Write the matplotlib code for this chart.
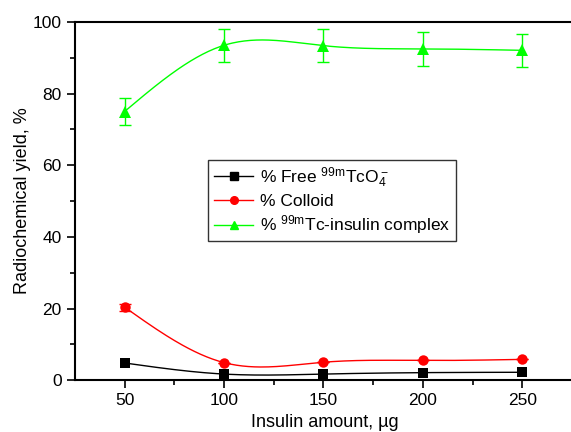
import numpy as np
import matplotlib
matplotlib.use("Agg")
import matplotlib.pyplot as plt

plt.rcParams['font.family'] = ['Liberation Sans', 'DejaVu Sans']
plt.rcParams['mathtext.fontset'] = 'custom'
plt.rcParams['mathtext.rm'] = 'Liberation Sans'
plt.rcParams['mathtext.it'] = 'Liberation Sans'

# data
insulin = [50, 100, 150, 200, 250]
free_tco4 = [4.8, 1.7, 1.7, 2.1, 2.2]
colloid = [20.4, 4.9, 5.0, 5.5, 5.8]
colloid_err = [1.0, 0, 0, 0, 0]
complex_ = [75.0, 93.5, 93.4, 92.5, 92.1]
complex_err = [3.7, 4.6, 4.6, 4.7, 4.6]


def spline(x, y, n=200):
    # natural cubic spline, only used to draw the connecting curve
    x = np.asarray(x, float)
    y = np.asarray(y, float)
    k = len(x)
    h = np.diff(x)
    A = np.zeros((k, k))
    b = np.zeros(k)
    A[0, 0] = A[-1, -1] = 1
    for i in range(1, k - 1):
        A[i, i - 1] = h[i - 1]
        A[i, i] = 2 * (h[i - 1] + h[i])
        A[i, i + 1] = h[i]
        b[i] = 6 * ((y[i + 1] - y[i]) / h[i] - (y[i] - y[i - 1]) / h[i - 1])
    M = np.linalg.solve(A, b)
    xs = np.linspace(x[0], x[-1], n)
    idx = np.clip(np.searchsorted(x, xs) - 1, 0, k - 2)
    x0, x1 = x[idx], x[idx + 1]
    hh = x1 - x0
    t0, t1 = x1 - xs, xs - x0
    ys = (M[idx] * t0 ** 3 + M[idx + 1] * t1 ** 3) / (6 * hh) \
        + (y[idx] / hh - M[idx] * hh / 6) * t0 \
        + (y[idx + 1] / hh - M[idx + 1] * hh / 6) * t1
    return xs, ys


fig = plt.figure(figsize=(5.71, 4.32), dpi=100)
ax = fig.add_axes([0.131, 0.12, 1.007 - 0.131, 0.829])

series = [
    (free_tco4, None, 'black', 's', 6.5, r'% Free $^{\mathrm{99m}}$TcO$_4^-$'),
    (colloid, colloid_err, 'red', 'o', 7.5, '% Colloid'),
    (complex_, complex_err, '#00ff00', '^', 8.0, r'% $^{\mathrm{99m}}$Tc-insulin complex'),
]

for vals, err, col, mk, ms, lab in series:
    xs, ys = spline(insulin, vals)
    ax.plot(xs, ys, color=col, lw=1, zorder=2)
    if err is not None:
        ax.errorbar(insulin, vals, yerr=err, fmt='none', ecolor=col,
                    elinewidth=1, capsize=4, capthick=1, zorder=3)
    ax.plot(insulin, vals, ls='none', marker=mk, color=col, ms=ms,
            mew=0, zorder=4)
    ax.plot([], [], color=col, lw=1, marker=mk, ms=5.5, label=lab)

ax.set_xlim(25, 276.5)
ax.set_ylim(0, 100)
ax.set_xticks([50, 100, 150, 200, 250])
ax.set_xticks([75, 125, 175, 225, 275], minor=True)
ax.set_yticks([0, 20, 40, 60, 80, 100])
ax.set_yticks([10, 30, 50, 70, 90], minor=True)
ax.tick_params(direction='out', labelsize=12.5, width=1.2, length=6)
ax.tick_params(which='minor', direction='out', width=1.2, length=3.5)
for s in ax.spines.values():
    s.set_linewidth(1.5)

ax.set_xlabel('Insulin amount, µg', fontsize=13, labelpad=4)
ax.set_ylabel('Radiochemical yield, %', fontsize=13, labelpad=1)

leg = ax.legend(loc='upper left', bbox_to_anchor=(0.267, 0.615), fontsize=12.5,
                frameon=True, fancybox=False, edgecolor='black',
                handlelength=2.3, handletextpad=0.4, labelspacing=0.25,
                borderpad=0.3, borderaxespad=0)
leg.get_frame().set_linewidth(1)

fig.savefig('out.png', dpi=100)
